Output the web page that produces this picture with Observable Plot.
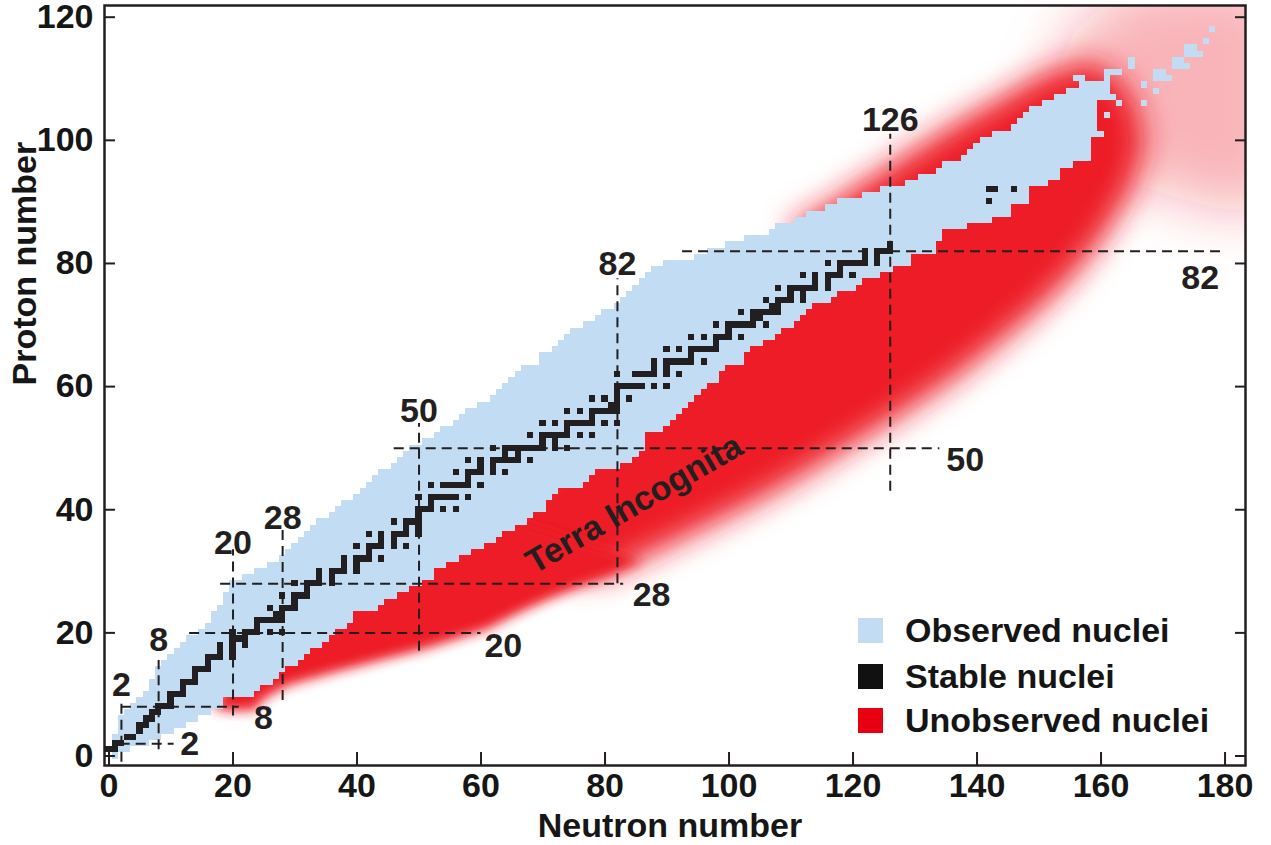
<!DOCTYPE html>
<html><head><meta charset="utf-8">
<script src="https://cdn.jsdelivr.net/npm/d3@7"></script>
<script src="https://cdn.jsdelivr.net/npm/@observablehq/plot@0.6"></script>
<style>
body{margin:0;background:#fff;}
#wrap{position:relative;width:1271px;height:845px;font-family:"Liberation Sans",Arial,sans-serif;}
.leg{position:absolute;left:858px;display:flex;align-items:center;height:25px;font-size:34px;font-weight:bold;color:#151515;line-height:25px;white-space:nowrap;}
.sw{display:inline-block;width:25px;height:25px;margin-right:22px;}
</style></head><body>
<svg width="0" height="0" style="position:absolute;left:0;top:0">
<defs>
<filter id="blurA" x="-50%" y="-50%" width="200%" height="200%"><feGaussianBlur stdDeviation="6"/></filter>
<filter id="blurB" x="-50%" y="-50%" width="200%" height="200%"><feGaussianBlur stdDeviation="15"/></filter>
<filter id="blurC" x="-80%" y="-80%" width="260%" height="260%"><feGaussianBlur stdDeviation="28"/></filter>
<clipPath id="plotclip" clipPathUnits="userSpaceOnUse"><rect x="104" y="5" width="1141" height="760"/></clipPath>
</defs></svg>
<div id="wrap"></div>
<script>
// ---- data ----
const xTicks = [0,20,40,60,80,100,120,140,160,180];
const yTicks = [0,20,40,60,80,100,120];

// observed nuclei: lightest / heaviest observed neutron number per proton number Z = 0..109
const obsMin = [1,0,1,1,2,2,2,3,4,5, 6,7,7,8,8,9,10,11,12,13, 15,16,17,17,18,19,19,20,20,22,
  24,26,28,29,30,31,32,33,34,36, 37,38,40,41,42,43,44,46,47,48, 49,51,53,54,56,57,58,60,62,63,
  64,65,66,67,70,70,72,73,74,75, 77,79,80,82,83,84,85,86,87,88, 90,95,97,100,103,107,108,111,113,116,
  118,122,125,129,131,134,135,138,139,140, 141,143,146,147,148,149,151,153,155,157];
const obsMax = [1,3,6,8,10,12,14,16,18,18, 23,24,26,27,28,30,31,32,34,35, 36,38,39,39,43,44,46,48,50,52,
  52,54,56,58,60,62,63,65,67,68, 70,70,71,72,76,77,78,82,84,85, 86,86,86,89,90,91,92,93,94,95,
  96,98,98,99,102,102,103,105,107,108, 110,111,112,113,116,117,120,121,124,126, 129,129,133,133,134,134,138,142,145,145,
  148,148,148,151,153,153,155,158,158,158, 158,160,159,159,159,159,159,160,160,160];
// isolated observed superheavy nuclei
const extraN = [161,161,161,161,161,162,163,162,163,161,156,157,165,165,167,167,169,169,170,169,170,171,172,173,172,173,174,174,175,174,175,176,177,178];
const extraZ = [107,108,109,110,111,111,111,107,106,104,110,110,112,113,109,106,108,111,111,110,110,110,113,113,112,112,112,115,115,114,114,114,116,118];

// stable nuclei: [Z, [N...]]
const stable = [
 [1,[0,1]],[2,[1,2]],[3,[3,4]],[4,[5]],[5,[5,6]],[6,[6,7]],[7,[7,8]],[8,[8,9,10]],[9,[10]],[10,[10,11,12]],
 [11,[12]],[12,[12,13,14]],[13,[14]],[14,[14,15,16]],[15,[16]],[16,[16,17,18,20]],[17,[18,20]],[18,[18,20,22]],
 [19,[20,21,22]],[20,[20,22,23,24,26,28]],[21,[24]],[22,[24,25,26,27,28]],[23,[27,28]],[24,[26,28,29,30]],
 [25,[30]],[26,[28,30,31,32]],[27,[32]],[28,[30,32,33,34,36]],[29,[34,36]],[30,[34,36,37,38,40]],[31,[38,40]],
 [32,[38,40,41,42,44]],[33,[42]],[34,[40,42,43,44,46,48]],[35,[44,46]],[36,[42,44,46,47,48,50]],[37,[48,50]],
 [38,[46,48,49,50]],[39,[50]],[40,[50,51,52,54,56]],[41,[52]],[42,[50,52,53,54,55,56,58]],[44,[52,54,55,56,57,58,60]],
 [45,[58]],[46,[56,58,59,60,62,64]],[47,[60,62]],[48,[58,60,62,63,64,65,66,68]],[49,[64,66]],
 [50,[62,64,65,66,67,68,69,70,72,74]],[51,[70,72]],[52,[68,70,71,72,73,74,76,78]],[53,[74]],
 [54,[70,72,74,75,76,77,78,80,82]],[55,[78]],[56,[74,76,78,79,80,81,82]],[57,[81,82]],[58,[78,80,82,84]],[59,[82]],
 [60,[82,83,84,85,86,88,90]],[62,[82,85,86,87,88,90,92]],[63,[88,90]],[64,[88,90,91,92,93,94,96]],[65,[94]],
 [66,[90,92,94,95,96,97,98]],[67,[98]],[68,[94,96,98,99,100,102]],[69,[100]],[70,[98,100,101,102,103,104,106]],
 [71,[104,105]],[72,[102,104,105,106,107,108]],[73,[107,108]],[74,[106,108,109,110,112]],[75,[110,112]],
 [76,[108,110,111,112,113,114,116]],[77,[114,116]],[78,[112,114,116,117,118,120]],[79,[118]],
 [80,[116,118,119,120,121,122,124]],[81,[122,124]],[82,[122,124,125,126]],[83,[126]],[90,[142]],[92,[142,143,146]]
];

// unobserved (predicted) region outlines, N and Z
const redAN = [18.6,23.5,25,29,36,44,51,57,61,66,71,76,80,86, 60,48,36,26,18,16.5];
const redAZ = [7.3,7.4,9.3,11.5,13.5,15.6,17.4,19.3,20.6,23.2,25.5,27.6,29.2,31.8, 40,33,26,18,10,8.2];
const redBN = [80,88,96,104,112,120,128,136,143,150,156,161,165,167,166,163,158,150,143,136,129,122,116,110, 112,95,80,66,58,52];
const redBZ = [29.2,33,37,41,45.5,50.5,55.5,61,66.5,72.5,78.5,85,92,99,105,110,113,110.5,106.5,102.5,98,93.5,89.5,86, 82,68,55,44,36,30];
const redCN = [156,168,182,190,190,165,156,152];
const redCZ = [99,92,88,90,126,126,118,110];

// magic numbers
const magicN = [2,8,20,28,50,82,126];
const vLo = [-1,1,6.5,9,17,28,43];
const vHi = [8.5,15.5,33.5,37,54,77.5,101];
const vLabZ = [11.5,18.8,34.5,38.6,56.1,79.9,103.3];
const magicZ = [2,8,20,28,50,82];
const hLo = [1.8,2,13,18,46,92.5];
const hHi = [10.5,21,60,83,134,180];
const hLabN = [13,24.9,63.6,87.5,138.1,176];
const hLabZ = [2,6.1,17.8,26.2,48,77.6];
const noteText = ["Terra Incognita"];
const noteN = [84.7];
const noteZ = [40.9];

const legendLabels = ["Observed nuclei","Stable nuclei","Unobserved nuclei"];
const legendColors = ["#c2ddf3","#111111","#e60012"];

// ---- build ----
const rows = obsMin.map((n1, z) => ({z, n1, n2: obsMax[z]}));
const extra = extraN.map((n, i) => ({n, z: extraZ[i]}));
const stableCells = stable.flatMap(([z, ns]) => ns.map(n => ({n, z})));
const poly = (ns, zs) => ns.map((n, i) => ({n, z: zs[i]}));

const BLUE = "#c2ddf3", INK = "#231f20";
const txt = {fontSize: 34, fontWeight: "bold", fill: INK};

const chart = Plot.plot({
  width: 1271, height: 845,
  marginLeft: 104, marginRight: 26, marginTop: 5, marginBottom: 80,
  x: {domain: [-0.73, 183.3], axis: null},
  y: {domain: [-1.54, 121.9], axis: null},
  style: {fontFamily: "'Liberation Sans', Arial, sans-serif", color: "#161616", background: "white", overflow: "visible"},
  marks: [
    Plot.line(poly(redCN, redCZ), {x: "n", y: "z", fill: "#ed1c27", fillOpacity: 0.33, stroke: "none", curve: "linear-closed"}),
    Plot.line(poly(redBN, redBZ), {x: "n", y: "z", fill: "#ed1c26", stroke: "none", curve: "linear-closed"}),
    Plot.line(poly(redAN, redAZ), {x: "n", y: "z", fill: "#ed1c25", stroke: "none", curve: "linear-closed"}),
    Plot.rect(rows, {x1: d => d.n1 - 0.5, x2: d => d.n2 + 0.5, y1: d => d.z - 0.5, y2: d => d.z + 0.5, fill: BLUE, shapeRendering: "crispEdges"}),
    Plot.rect(extra, {x1: d => d.n - 0.5, x2: d => d.n + 0.5, y1: d => d.z - 0.5, y2: d => d.z + 0.5, fill: BLUE, shapeRendering: "crispEdges"}),
    Plot.rect(stableCells, {x1: d => d.n - 0.5, x2: d => d.n + 0.5, y1: d => d.z - 0.5, y2: d => d.z + 0.5, fill: INK, shapeRendering: "crispEdges"}),
    Plot.ruleX(magicN, {x: d => d, y1: (d, i) => vLo[i], y2: (d, i) => vHi[i], stroke: INK, strokeWidth: 2, strokeDasharray: "10,6"}),
    Plot.ruleY(magicZ, {y: d => d, x1: (d, i) => hLo[i], x2: (d, i) => hHi[i], stroke: INK, strokeWidth: 2, strokeDasharray: "10,6"}),
    Plot.text(magicN, {x: d => d, y: (d, i) => vLabZ[i], text: d => String(d), ...txt}),
    Plot.text(magicZ, {x: (d, i) => hLabN[i], y: (d, i) => hLabZ[i], text: d => String(d), ...txt}),
    Plot.text(noteText, {x: (d, i) => noteN[i], y: (d, i) => noteZ[i], text: d => d, rotate: -30, ...txt}),
    Plot.frame({stroke: INK, strokeWidth: 2.5}),
    Plot.axisX({ticks: xTicks, anchor: "bottom", tickSize: 0, tickPadding: 7, fontSize: 34, fontWeight: "bold", label: null}),
    Plot.axisX({ticks: xTicks, anchor: "bottom", tickSize: 13, dy: -13, tickFormat: () => "", label: null, strokeWidth: 2, stroke: INK}),
    Plot.axisY({ticks: yTicks, anchor: "left", tickSize: 0, tickPadding: 11, fontSize: 34, fontWeight: "bold", label: null}),
    Plot.axisY({ticks: yTicks, anchor: "left", tickSize: 11, dx: 11, tickFormat: () => "", label: null, strokeWidth: 2, stroke: INK}),
    Plot.axisY({ticks: yTicks, anchor: "right", tickSize: 11, dx: -11, tickFormat: () => "", label: null, strokeWidth: 2, stroke: INK}),
    Plot.text(["Neutron number"], {frameAnchor: "bottom", lineAnchor: "top", dy: 47, dx: -5, ...txt, fill: "#161616"}),
    Plot.text(["Proton number"], {frameAnchor: "left", rotate: -90, dx: -79.5, ...txt, fill: "#161616"})
  ]
});

// soft edges for the unobserved region, clipped to the frame
[["#ed1c25","blurA"],["#ed1c26","blurB"],["#ed1c27","blurC"]].forEach(([c, f]) => {
  chart.querySelectorAll(`g[fill="${c}"]`).forEach(g => {
    g.setAttribute("clip-path", "url(#plotclip)");
    g.querySelectorAll("path").forEach(p => p.setAttribute("filter", `url(#${f})`));
  });
});

const wrap = document.getElementById("wrap");
wrap.appendChild(chart);
const tops = [618, 664, 708];
legendLabels.forEach((label, i) => {
  const row = document.createElement("div");
  row.className = "leg";
  row.style.top = tops[i] + "px";
  const sw = document.createElement("span");
  sw.className = "sw";
  sw.style.background = legendColors[i];
  row.appendChild(sw);
  row.appendChild(document.createTextNode(label));
  wrap.appendChild(row);
});
</script>
</body></html>
